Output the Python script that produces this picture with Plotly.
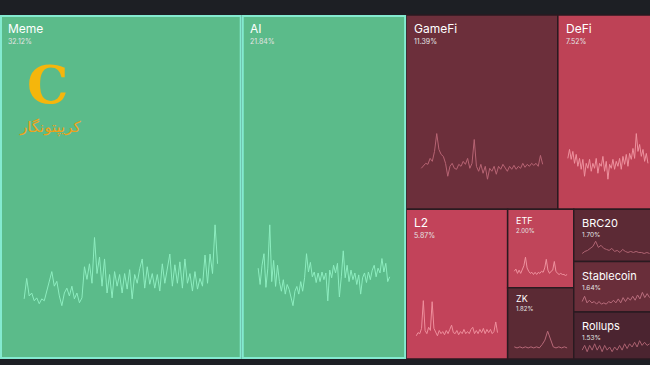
import plotly.graph_objects as go

# ---------------- data ----------------
names = ["Meme", "AI", "GameFi", "DeFi", "L2", "ETF", "ZK", "BRC20", "Stablecoin", "Rollups"]
shares = [32.12, 21.84, 11.39, 7.52, 5.87, 2.00, 1.82, 1.70, 1.64, 1.53]
share_labels = ["32.12%", "21.84%", "11.39%", "7.52%", "5.87%", "2.00%", "1.82%", "1.70%", "1.64%", "1.53%"]

meme_series = [17, 38, 20, 23, 15, 18, 12, 17, 15, 25, 33, 45, 30, 35, 20, 10, 23, 28, 20, 30,
               17, 23, 13, 18, 50, 37, 53, 33, 80, 43, 60, 30, 58, 23, 42, 18, 45, 30, 42, 23,
               43, 27, 47, 17, 42, 33, 48, 58, 28, 50, 32, 43, 28, 42, 25, 53, 33, 47, 63, 30,
               52, 33, 55, 28, 58, 33, 43, 25, 45, 27, 38, 30, 62, 33, 63, 43, 93, 53]
ai_series = [47, 30, 50, 62, 27, 47, 92, 33, 55, 28, 50, 33, 23, 35, 20, 30, 25, 15, 8, 23,
             28, 20, 33, 23, 37, 62, 43, 53, 38, 43, 32, 42, 33, 43, 35, 42, 13, 45, 37, 50,
             42, 52, 17, 38, 65, 37, 50, 33, 45, 35, 42, 30, 40, 20, 37, 42, 32, 43, 35, 45,
             50, 38, 47, 42, 57, 43, 52, 33, 38]
gamefi_series = [18, 20, 23, 22, 28, 25, 35, 53, 37, 32, 30, 23, 10, 20, 23, 18, 17, 22, 20, 25,
                 22, 28, 18, 23, 47, 20, 15, 22, 13, 20, 7, 18, 15, 20, 12, 20, 17, 22, 18, 15,
                 20, 17, 21, 17, 20, 18, 23, 19, 22, 20, 23, 21, 23, 20, 31, 22]
defi_series = [28, 37, 27, 35, 23, 32, 20, 28, 17, 27, 10, 23, 18, 27, 15, 23, 18, 28, 13, 23,
               20, 30, 15, 25, 7, 22, 18, 27, 17, 25, 20, 28, 17, 30, 22, 32, 20, 33, 27, 38,
               28, 53, 35, 42, 30, 37, 25, 33, 23]
l2_series = [5, 8, 7, 12, 38, 10, 7, 13, 10, 37, 12, 8, 5, 10, 7, 9, 6, 10, 7, 11,
             15, 8, 7, 10, 6, 9, 7, 11, 7, 9, 7, 11, 13, 7, 10, 7, 11, 8, 12, 7,
             11, 8, 11, 7, 9, 18, 8]
etf_series = [7, 9, 5, 8, 5, 8, 12, 20, 10, 7, 5, 6, 4, 6, 4, 6, 5, 7, 6, 10,
              18, 8, 5, 7, 8, 16, 7, 5, 4, 5, 4, 4, 3, 4]
zk_series = [4, 3, 4, 3, 4, 3, 4, 3, 4, 3, 6, 10, 18, 10, 4, 3, 4, 3, 4, 3]
brc20_series = [3, 5, 6, 8, 10, 15, 9, 11, 8, 7, 6, 8, 5, 6, 4, 7, 5, 4, 5, 4,
                5, 4, 4, 3, 4, 3]
stable_series = [4, 8, 3, 5, 3, 4, 2, 4, 2, 3, 2, 4, 3, 5, 3, 6, 3, 7, 4, 7,
                 5, 8, 5, 9, 6, 11, 7, 10, 7]
rollups_series = [4, 7, 3, 7, 4, 8, 4, 7, 3, 7, 4, 6, 3, 6, 4, 7, 4, 8, 5, 8,
                  6, 9, 6, 10, 7, 9, 7, 8]
series = [meme_series, ai_series, gamefi_series, defi_series, l2_series, etf_series,
          zk_series, brc20_series, stable_series, rollups_series]

# ---------------- style ----------------
tile_colors = ["#5bbb8a", "#5bbb8a", "#6c2f3b", "#be4256", "#c2435a", "#c0455a",
               "#5b2a34", "#5c2a35", "#692e3a", "#4b2430"]
spark_colors = ["#93f3c6", "#93f3c6", "#c06a7a", "#f49aa6", "#f497a4", "#f49aa6",
                "#c27080", "#b86a79", "#c27484", "#b56877"]
green = {0, 1}

# nested slice/dice structure: ('h' = split along x, 'v' = split along y)
structure = ("h", [("h", [0, 1]),
                   ("v", [("h", [2, 3]),
                          ("h", [4, ("v", [5, 6]), ("v", [7, 8, 9])])])])

W_LAYOUT = 658
Y_TOP, Y_BOT = 15, 359


def total(node):
    if isinstance(node, int):
        return shares[node]
    return sum(total(c) for c in node[1])


rects = {}


def place(node, x0, y0, x1, y1):
    if isinstance(node, int):
        rects[node] = (x0, y0, x1, y1)
        return
    kind, children = node
    t = total(node)
    pos = x0 if kind == "h" else y0
    for c in children:
        f = total(c) / t
        if kind == "h":
            w = (x1 - x0) * f
            place(c, pos, y0, pos + w, y1)
            pos += w
        else:
            h = (y1 - y0) * f
            place(c, x0, pos, x1, pos + h)
            pos += h


place(structure, 0, Y_TOP, W_LAYOUT, Y_BOT)

fig = go.Figure()
shapes = []
annotations = []

order = [i for i in range(len(names)) if i not in green] + sorted(green)
for i in order:
    x0, y0, x1, y1 = rects[i]
    if i in green:
        shapes.append(dict(type="rect", xref="x", yref="y", x0=x0 + 1, y0=y0 + 1, x1=x1 - 1, y1=y1 - 1,
                           fillcolor=tile_colors[i], line=dict(color="#84ead0", width=2), layer="below"))
    else:
        shapes.append(dict(type="rect", xref="x", yref="y", x0=x0, y0=y0, x1=x1, y1=y1,
                           fillcolor=tile_colors[i], line=dict(color="#2a1a20", width=1.5), layer="below"))

for i, s in enumerate(series):
    x0, y0, x1, y1 = rects[i]
    w, h = x1 - x0, y1 - y0
    n = len(s)
    lo, hi = min(s), max(s)
    xs = [x0 + w * (0.1 + 0.8 * k / (n - 1)) for k in range(n)]
    ys = [y0 + h * (0.845 - 0.235 * (v - lo) / (hi - lo)) for v in s]
    fig.add_trace(go.Scatter(x=xs, y=ys, mode="lines",
                             line=dict(color=spark_colors[i], width=1), opacity=0.9,
                             hoverinfo="skip", showlegend=False))

    if w >= 90:
        ts, ps, ty, py = 12, 7, 13, 26
    elif w >= 75:
        ts, ps, ty, py = 11, 6.5, 14, 26
    else:
        ts, ps, ty, py = 9, 6, 11, 21
    annotations.append(dict(x=x0 + 6, y=y0 + ty, xref="x", yref="y", text=names[i],
                            showarrow=False, xanchor="left", yanchor="middle",
                            font=dict(family="Inter, Roboto, sans-serif", size=ts, color="#ffffff")))
    annotations.append(dict(x=x0 + 6, y=y0 + py, xref="x", yref="y", text=share_labels[i],
                            showarrow=False, xanchor="left", yanchor="middle",
                            font=dict(family="Inter, Roboto, sans-serif", size=ps, color="#e4e4e4")))

# watermark logo
annotations.append(dict(x=47, y=84, xref="x", yref="y", text="<b>C</b>", showarrow=False,
                        xanchor="center", yanchor="middle",
                        font=dict(family="DejaVu Serif", size=52, color="#f5b60c")))
annotations.append(dict(x=50, y=127, xref="x", yref="y", text="کریپتونگار", showarrow=False,
                        xanchor="center", yanchor="middle",
                        font=dict(family="DejaVu Sans", size=15, color="#eea21a")))

fig.update_layout(
    width=650, height=365,
    margin=dict(l=0, r=0, t=0, b=0),
    paper_bgcolor="#1d1f24", plot_bgcolor="#1d1f24",
    shapes=shapes, annotations=annotations,
    xaxis=dict(range=[0, 650], visible=False, fixedrange=True),
    yaxis=dict(range=[365, 0], visible=False, fixedrange=True),
    showlegend=False,
)

fig.write_html("out.html", config={"displayModeBar": False},
               post_script="document.body.style.margin='0';document.body.style.background='#1d1f24';")
